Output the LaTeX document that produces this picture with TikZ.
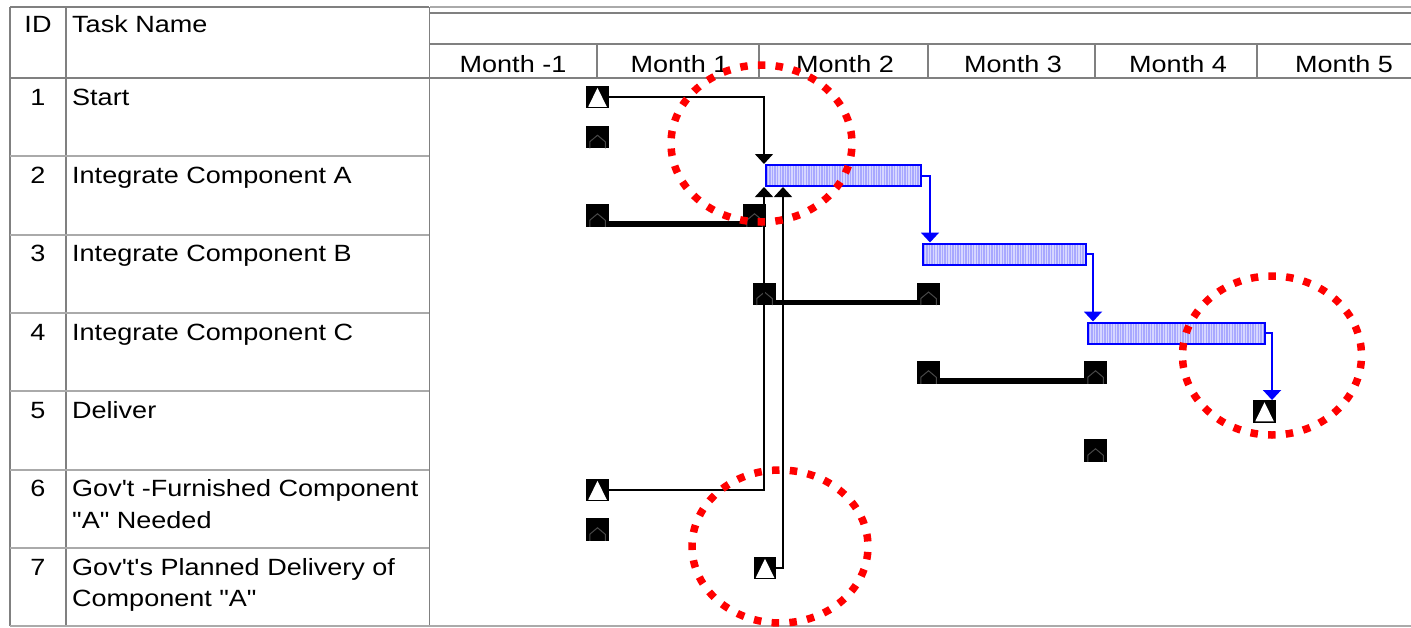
\documentclass[tikz,border=0pt]{standalone}
\usepackage{fontspec}
\setmainfont{Liberation Sans}[FakeStretch=1.15, Ligatures=TeXOff]
\usetikzlibrary{arrows.meta}
\definecolor{gridc}{RGB}{128,128,128}
\definecolor{gridl}{RGB}{170,170,170}
\definecolor{barfill}{RGB}{168,168,255}
\definecolor{barstripe}{RGB}{214,214,255}
\definecolor{barblue}{RGB}{0,0,255}
\definecolor{hous}{RGB}{72,72,72}
\newcommand{\gfont}{\fontsize{23.5}{28}\selectfont}
\tikzset{
  lbl/.style={anchor=base west, inner sep=0pt, font=\gfont},
  idl/.style={anchor=base, inner sep=0pt, font=\gfont},
  msq/.style={rectangle, fill=black, minimum size=22.5pt, inner sep=0pt, draw=none},
  milestone/.style={msq, path picture={
      \fill[white] ([xshift=2pt,yshift=1.5pt]path picture bounding box.south west)
        -- ([yshift=-2pt]path picture bounding box.north)
        -- ([xshift=-2pt,yshift=1.5pt]path picture bounding box.south east) -- cycle;}},
  basemk/.style={msq, path picture={
      \draw[hous, line width=1pt]
        ([xshift=3.5pt]path picture bounding box.south west)
        -- ([xshift=3.5pt,yshift=6.5pt]path picture bounding box.south west)
        -- ([yshift=-9.5pt]path picture bounding box.north)
        -- ([xshift=-3.5pt,yshift=6.5pt]path picture bounding box.south east)
        -- ([xshift=-3.5pt]path picture bounding box.south east);}},
  taskbar/.style={rectangle, draw=barblue, fill=barfill, line width=2pt, inner sep=0pt, minimum height=21pt,
    path picture={
      \foreach \k in {0,2.6,...,180}
        \draw[barstripe, line width=1.2pt]
          ([xshift=\k pt]path picture bounding box.south west)
          -- ([xshift=\k pt]path picture bounding box.north west);}},
  conn/.style={black, line width=1.5pt, -{Triangle[width=18pt,length=10pt]}},
  bconn/.style={barblue, line width=2pt, -{Triangle[width=18pt,length=10pt]}},
  baseln/.style={black, line width=5.5pt},
  ring/.style={red, line width=7.5pt, dash pattern=on 7.5pt off #1, dash phase=-5pt},
  gline/.style={gridc, line width=1.8pt},
  lline/.style={gridl, line width=2pt},
  hline/.style={gridl, line width=1.2pt}
}
\begin{document}
\begin{tikzpicture}[x=1pt,y=-1pt]
\useasboundingbox (0,0) rectangle (1411,627);
% ---- grid ----
\draw[gline] (10,7) -- (429,7);
\draw[hline] (430,7) -- (1411,7);
\draw[gline] (430,13) -- (1411,13);
\draw[gline] (430,44) -- (1411,44);
\draw[gline] (10,78) -- (1411,78);
\draw[gline] (10,7) -- (10,626);
\draw[gline] (66,7) -- (66,626);
\draw[gline] (429.5,7) -- (429.5,626);
\foreach \y in {156.3,234.6,313,391.3,469.7,548}
  \draw[lline] (10,\y) -- (429,\y);
\draw[lline] (10,625.5) -- (1411,625.5);
\foreach \x in {597,759,928,1095,1257}
  \draw[gline] (\x,44) -- (\x,78);
% ---- header text ----
\node[idl] (hid) at (38,32) {ID};
\node[lbl] (hname) at (72,32) {Task Name};
\node[idl] (mm1) at (513,72) {Month -1};
\node[idl] (mp1) at (679.5,72) {Month 1};
\node[idl] (mp2) at (845,72) {Month 2};
\node[idl] (mp3) at (1013,72) {Month 3};
\node[idl] (mp4) at (1178,72) {Month 4};
\node[idl] (mp5) at (1344,72) {Month 5};
% ---- rows ----
\node[idl] (id1) at (38,105) {1};
\node[lbl] (n1) at (72,105) {Start};
\node[idl] (id2) at (38,183.3) {2};
\node[lbl] (n2) at (72,183.3) {Integrate Component A};
\node[idl] (id3) at (38,261.6) {3};
\node[lbl] (n3) at (72,261.6) {Integrate Component B};
\node[idl] (id4) at (38,340) {4};
\node[lbl] (n4) at (72,340) {Integrate Component C};
\node[idl] (id5) at (38,418.3) {5};
\node[lbl] (n5) at (72,418.3) {Deliver};
\node[idl] (id6) at (38,496.7) {6};
\node[lbl] (n6a) at (72,496.7) {Gov't -Furnished Component};
\node[lbl] (n6b) at (72,528.2) {"A" Needed};
\node[idl] (id7) at (38,575) {7};
\node[lbl] (n7a) at (72,575) {Gov't's Planned Delivery of};
\node[lbl] (n7b) at (72,606.5) {Component "A"};
% ---- baselines ----
\node[basemk] (b1) at (597.5,137) {};
\node[basemk] (b2a) at (597.5,215.5) {};
\node[basemk] (b2b) at (754.5,215.5) {};
\node[basemk] (b3a) at (764.5,293.8) {};
\node[basemk] (b3b) at (928.5,293.8) {};
\node[basemk] (b4a) at (928.5,372.5) {};
\node[basemk] (b4b) at (1095.5,372.5) {};
\node[basemk] (b5) at (1095.5,450.5) {};
\node[basemk] (b6) at (597.5,529.5) {};
\draw[baseln] ([yshift=3pt]b2a.south east) -- ([yshift=3pt]b2b.south west);
\draw[baseln] ([yshift=3pt]b3a.south east) -- ([yshift=3pt]b3b.south west);
\draw[baseln] ([yshift=3pt]b4a.south east) -- ([yshift=3pt]b4b.south west);
% ---- task bars ----
\node[taskbar, minimum width=155pt] (bar2) at (843.5,175.5) {};
\node[taskbar, minimum width=163pt] (bar3) at (1004.5,254) {};
\node[taskbar, minimum width=177pt] (bar4) at (1176.5,333) {};
% ---- milestones ----
\node[milestone] (m1) at (597.5,97) {};
\node[milestone] (m5) at (1264.5,411.5) {};
\node[milestone] (m6) at (597.5,490) {};
\node[milestone] (m7) at (765,568) {};
% ---- connectors ----
\draw[conn] (m1.east) -| ([xshift=-1pt]bar2.north west);
\draw[conn] (m6.east) -| ([xshift=-1pt]bar2.south west);
\draw[conn] (m7.east) -| ([xshift=18pt]bar2.south west);
\draw[bconn] (bar2.east) -| ([xshift=8pt]bar3.north west);
\draw[bconn] (bar3.east) -| ([xshift=6pt]bar4.north west);
\draw[bconn] (bar4.east) -| ([xshift=7.5pt]m5.north);
% ---- red highlight rings ----
\draw[ring=10.22pt] (761.5,143.5) ellipse [x radius=90.5pt, y radius=78.5pt];
\draw[ring=10.34pt] (780,546.5) ellipse [x radius=88pt, y radius=76.5pt];
\draw[ring=10.21pt] (1272,355.5) ellipse [x radius=89.5pt, y radius=79.5pt];
\end{tikzpicture}
\end{document}
